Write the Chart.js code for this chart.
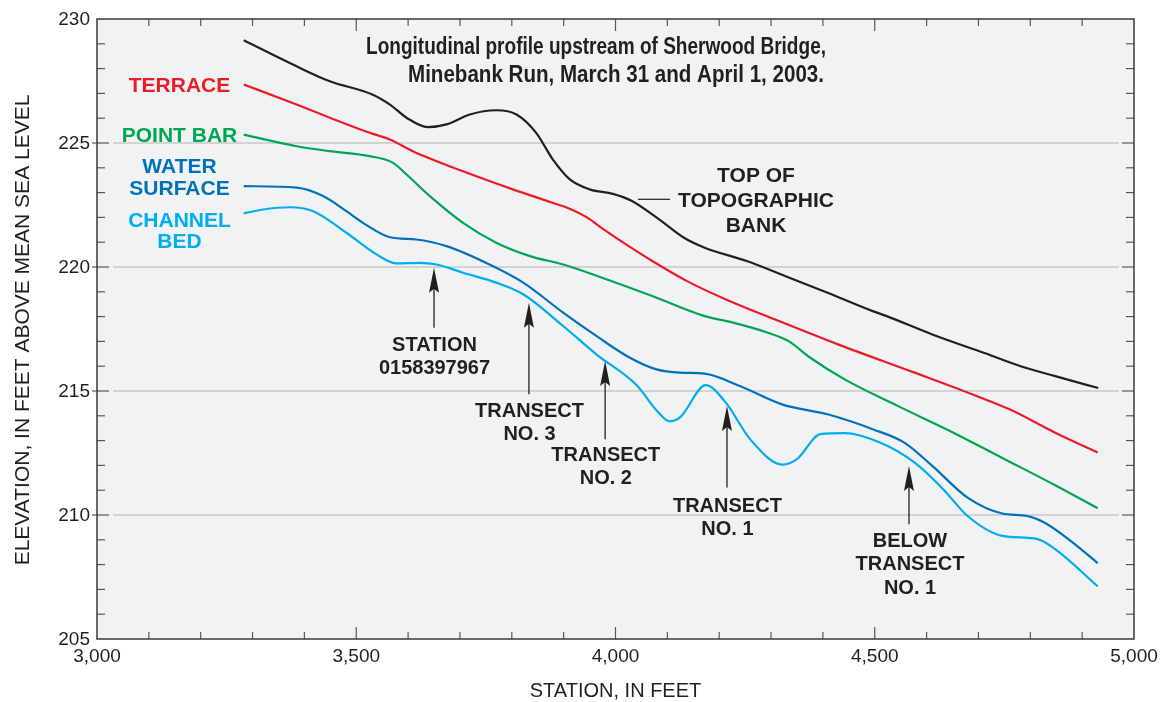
<!DOCTYPE html>
<html>
<head>
<meta charset="utf-8">
<script src="https://cdn.jsdelivr.net/npm/chart.js@4.4.1/dist/chart.umd.min.js"></script>
<style>
  html, body { margin: 0; padding: 0; background: #fff; }
  #wrap { width: 1168px; height: 702px; }
</style>
</head>
<body>
<div id="wrap"><canvas id="profile" width="1168" height="702"></canvas></div>
<script>
// axis labels
const xTicks = [3000, 3500, 4000, 4500, 5000];
const yTicks = [205, 210, 215, 220, 225, 230];
const gridLevels = [210, 215, 220, 225];
const xMinorStep = 100;
const yMinorStep = 1;

// top of topographic bank
const bankStation = [3283, 3385, 3449, 3532, 3565, 3597, 3638, 3674, 3719, 3770, 3809, 3847, 3879, 3912, 3950, 3995, 4030, 4084, 4132, 4172, 4253, 4328, 4409, 4496, 4523, 4611, 4713, 4780, 4848, 4931];
const bankElev = [229.14, 228.09, 227.49, 226.95, 226.55, 226.02, 225.64, 225.75, 226.15, 226.32, 226.15, 225.41, 224.34, 223.53, 223.13, 222.95, 222.68, 221.92, 221.18, 220.78, 220.24, 219.63, 218.96, 218.22, 218.02, 217.28, 216.52, 216.01, 215.60, 215.12];

// terrace
const terraceStation = [3283, 3385, 3449, 3526, 3565, 3609, 3706, 3802, 3880, 3915, 3945, 3975, 4027, 4071, 4138, 4213, 4307, 4429, 4577, 4679, 4760, 4848, 4930];
const terraceElev = [227.36, 226.55, 226.02, 225.41, 225.14, 224.67, 223.86, 223.13, 222.58, 222.32, 222.00, 221.55, 220.82, 220.24, 219.43, 218.69, 217.89, 216.88, 215.74, 214.94, 214.26, 213.32, 212.52];

// point bar
const pointBarStation = [3283, 3385, 3449, 3526, 3571, 3597, 3642, 3706, 3770, 3835, 3899, 3970, 4071, 4172, 4226, 4294, 4334, 4375, 4442, 4544, 4645, 4746, 4848, 4930];
const pointBarElev = [225.34, 224.87, 224.67, 224.47, 224.20, 223.73, 222.86, 221.78, 220.98, 220.44, 220.10, 219.60, 218.83, 218.02, 217.76, 217.35, 217.01, 216.35, 215.47, 214.40, 213.39, 212.30, 211.20, 210.27];

// water surface
const waterStation = [3283, 3385, 3436, 3481, 3513, 3565, 3616, 3674, 3757, 3822, 3899, 3963, 4027, 4079, 4124, 4172, 4240, 4321, 4409, 4496, 4557, 4611, 4679, 4746, 4794, 4827, 4882, 4930];
const waterElev = [223.26, 223.20, 222.86, 222.25, 221.78, 221.20, 221.11, 220.84, 220.10, 219.37, 218.16, 217.22, 216.35, 215.87, 215.74, 215.70, 215.20, 214.46, 214.06, 213.46, 212.92, 211.98, 210.70, 210.06, 209.96, 209.70, 208.89, 208.06];

// channel bed
const bedStation = [3283, 3320, 3372, 3417, 3481, 3539, 3577, 3622, 3655, 3706, 3770, 3822, 3899, 3963, 4040, 4082, 4104, 4125, 4174, 4212, 4260, 4322, 4350, 4395, 4442, 4510, 4577, 4632, 4679, 4746, 4814, 4848, 4930];
const bedElev = [222.16, 222.32, 222.41, 222.25, 221.38, 220.51, 220.15, 220.17, 220.10, 219.77, 219.37, 218.90, 217.62, 216.48, 215.25, 214.15, 213.78, 213.95, 215.24, 214.55, 213.05, 212.03, 212.25, 213.26, 213.30, 212.92, 212.11, 211.04, 209.96, 209.16, 209.03, 208.62, 207.12];

// arrows: station and elevation of tip and tail
const arrows = [
    { station: 3650, tip: 219.97, tail: 217.55 },
    { station: 3833, tip: 218.56, tail: 214.87 },
    { station: 3980, tip: 216.21, tail: 213.05 },
    { station: 4215, tip: 214.40, tail: 211.11 },
    { station: 4566, tip: 211.98, tail: 209.63 }
];

const BLACK = '#231f20';
const RED = '#ed1c24';
const GREEN = '#00a651';
const BLUE = '#0072bc';
const CYAN = '#00aeef';

const SANS = "'Liberation Sans', Arial, Helvetica, sans-serif";
const NARROW = "'Liberation Sans Narrow', 'Liberation Sans', Arial, sans-serif";

const toPoints = (xs, ys) => xs.map((x, i) => ({ x: x, y: ys[i] }));

function seg(ctx, x1, y1, x2, y2) {
    ctx.beginPath();
    ctx.moveTo(x1, y1);
    ctx.lineTo(x2, y2);
    ctx.stroke();
}

function label(ctx, str, x, y, font, color) {
    ctx.font = font;
    ctx.fillStyle = color;
    ctx.textAlign = 'center';
    ctx.textBaseline = 'alphabetic';
    ctx.fillText(str, x, y);
}

// draw text stretched or squeezed to a given width
function fitText(ctx, str, x, y, width, font, color) {
    ctx.save();
    ctx.font = font;
    ctx.fillStyle = color;
    ctx.textAlign = 'left';
    ctx.textBaseline = 'alphabetic';
    const w = ctx.measureText(str).width;
    ctx.translate(x, y);
    ctx.scale(width / w, 1);
    ctx.fillText(str, 0, 0);
    ctx.restore();
}

function arrow(ctx, x, yTip, yTail) {
    ctx.strokeStyle = BLACK;
    ctx.fillStyle = BLACK;
    ctx.lineWidth = 1.3;
    seg(ctx, x, yTail, x, yTip + 20);
    ctx.beginPath();
    ctx.moveTo(x, yTip);
    ctx.lineTo(x + 5, yTip + 25);
    ctx.lineTo(x, yTip + 21);
    ctx.lineTo(x - 5, yTip + 25);
    ctx.closePath();
    ctx.fill();
}

const framePlugin = {
    id: 'frame',
    beforeDraw(chart) {
        const { ctx, chartArea: a } = chart;
        const ys = chart.scales.y;
        ctx.save();
        ctx.fillStyle = '#ffffff';
        ctx.fillRect(0, 0, chart.width, chart.height);
        ctx.fillStyle = '#f1f2f4';
        ctx.fillRect(a.left, a.top, a.right - a.left, a.bottom - a.top);
        ctx.strokeStyle = '#c8c9cb';
        ctx.lineWidth = 1.5;
        gridLevels.forEach(v => {
            const py = ys.getPixelForValue(v);
            seg(ctx, a.left + 16, py, a.right - 15, py);
        });
        ctx.restore();
    },
    afterDraw(chart) {
        const { ctx, chartArea: a } = chart;
        const xs = chart.scales.x;
        const ys = chart.scales.y;
        ctx.save();

        // ticks
        ctx.strokeStyle = '#58595b';
        ctx.lineWidth = 1.2;
        for (let v = xs.min + xMinorStep; v < xs.max; v += xMinorStep) {
            const px = xs.getPixelForValue(v);
            const len = v % 500 === 0 ? 12 : 7;
            seg(ctx, px, a.bottom, px, a.bottom - len);
            seg(ctx, px, a.top, px, a.top + len);
        }
        for (let v = ys.min + yMinorStep; v < ys.max; v += yMinorStep) {
            const py = ys.getPixelForValue(v);
            const major = v % 5 === 0;
            seg(ctx, a.left - (major ? 5 : 0), py, a.left + (major ? 12 : 8), py);
            seg(ctx, a.right, py, a.right - (major ? 12 : 8), py);
        }

        // frame
        ctx.strokeStyle = '#3a3a3c';
        ctx.lineWidth = 1.5;
        ctx.strokeRect(a.left, a.top, a.right - a.left, a.bottom - a.top);

        // tick labels
        ctx.fillStyle = BLACK;
        ctx.font = '19px ' + SANS;
        ctx.textAlign = 'right';
        ctx.textBaseline = 'middle';
        yTicks.forEach(v => ctx.fillText(String(v), a.left - 7, ys.getPixelForValue(v) + 1));
        ctx.textAlign = 'center';
        ctx.textBaseline = 'alphabetic';
        xTicks.forEach(v => ctx.fillText(v.toLocaleString('en-US'), xs.getPixelForValue(v), 662));

        // axis titles
        label(ctx, 'STATION, IN FEET', xs.getPixelForValue(4000), 697, '20px ' + SANS, BLACK);
        ctx.save();
        ctx.translate(28.5, 330);
        ctx.rotate(-Math.PI / 2);
        label(ctx, 'ELEVATION, IN FEET ABOVE MEAN SEA LEVEL', 0, 0, '21px ' + SANS, BLACK);
        ctx.restore();

        // title
        fitText(ctx, 'Longitudinal profile upstream of Sherwood Bridge,', 366, 54, 460, 'bold 24.5px ' + NARROW, BLACK);
        fitText(ctx, 'Minebank Run, March 31 and April 1, 2003.', 408, 81.5, 416, 'bold 24.5px ' + NARROW, BLACK);

        // series labels
        const sf = 'bold 21px ' + SANS;
        label(ctx, 'TERRACE', 179.5, 91.7, sf, RED);
        label(ctx, 'POINT BAR', 179.5, 141.7, sf, GREEN);
        label(ctx, 'WATER', 179.5, 172.7, sf, BLUE);
        label(ctx, 'SURFACE', 179.5, 195, sf, BLUE);
        label(ctx, 'CHANNEL', 179.5, 226.7, sf, CYAN);
        label(ctx, 'BED', 179.5, 248.3, sf, CYAN);

        // annotations
        const af = 'bold 20px ' + SANS;
        const tf = 'bold 21px ' + SANS;
        label(ctx, 'TOP OF', 756, 181.7, tf, BLACK);
        label(ctx, 'TOPOGRAPHIC', 756, 207.3, tf, BLACK);
        label(ctx, 'BANK', 756, 232, tf, BLACK);
        ctx.strokeStyle = BLACK;
        ctx.lineWidth = 1.2;
        seg(ctx, 638, 199.3, 670, 199.3);

        label(ctx, 'STATION', 434.5, 350.7, af, BLACK);
        label(ctx, '0158397967', 434.5, 374, af, BLACK);
        label(ctx, 'TRANSECT', 529.5, 416.7, af, BLACK);
        label(ctx, 'NO. 3', 529.5, 440, af, BLACK);
        label(ctx, 'TRANSECT', 605.8, 461, af, BLACK);
        label(ctx, 'NO. 2', 605.8, 484.3, af, BLACK);
        label(ctx, 'TRANSECT', 727.4, 511.7, af, BLACK);
        label(ctx, 'NO. 1', 727.4, 535, af, BLACK);
        label(ctx, 'BELOW', 910, 546.7, af, BLACK);
        label(ctx, 'TRANSECT', 910, 570, af, BLACK);
        label(ctx, 'NO. 1', 910, 594, af, BLACK);

        arrows.forEach(ar => {
            arrow(ctx, xs.getPixelForValue(ar.station), ys.getPixelForValue(ar.tip), ys.getPixelForValue(ar.tail));
        });

        ctx.restore();
    }
};

const ctx = document.getElementById('profile');
new Chart(ctx, {
    type: 'line',
    data: {
        datasets: [
            { label: 'Top of topographic bank', data: toPoints(bankStation, bankElev), borderColor: BLACK },
            { label: 'Terrace', data: toPoints(terraceStation, terraceElev), borderColor: RED },
            { label: 'Point bar', data: toPoints(pointBarStation, pointBarElev), borderColor: GREEN },
            { label: 'Water surface', data: toPoints(waterStation, waterElev), borderColor: BLUE },
            { label: 'Channel bed', data: toPoints(bedStation, bedElev), borderColor: CYAN }
        ]
    },
    options: {
        responsive: false,
        animation: false,
        devicePixelRatio: 1,
        layout: { padding: { left: 97, right: 34, top: 19, bottom: 63 } },
        plugins: {
            legend: { display: false },
            tooltip: { enabled: false }
        },
        elements: {
            point: { radius: 0 },
            line: { borderWidth: 2.2, cubicInterpolationMode: 'monotone', fill: false }
        },
        scales: {
            x: { type: 'linear', min: 3000, max: 5000, display: false },
            y: { type: 'linear', min: 205, max: 230, display: false }
        }
    },
    plugins: [framePlugin]
});
</script>
</body>
</html>
